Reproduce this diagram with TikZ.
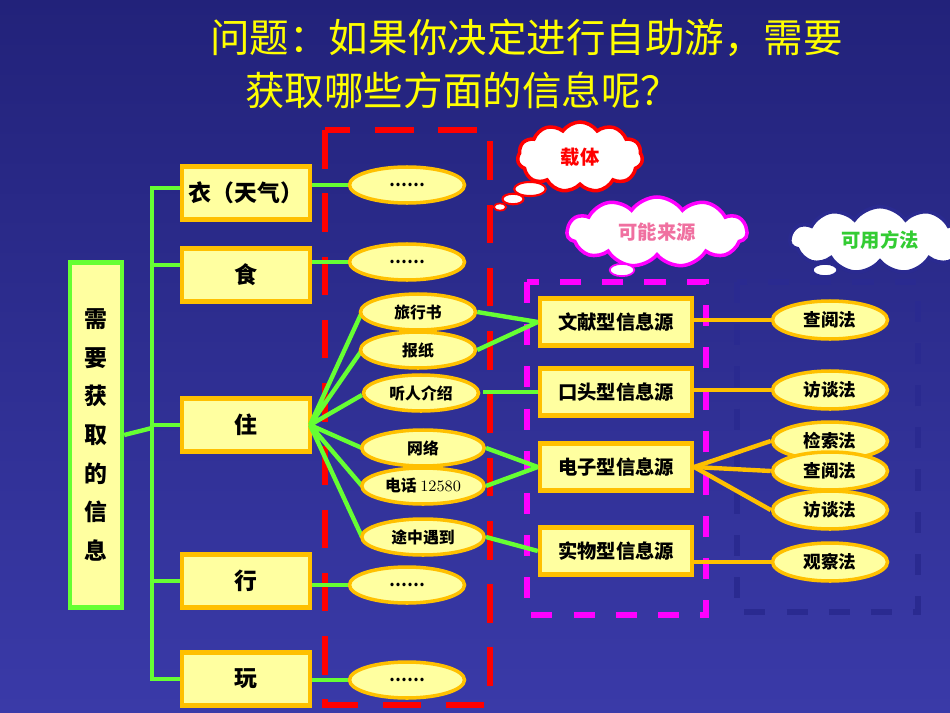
\documentclass[tikz,border=0pt]{standalone}
\usepackage{fontspec}
\setmainfont{Noto Sans CJK SC}
\usetikzlibrary{shapes.symbols,shapes.geometric}
\definecolor{bgtop}{HTML}{22227A}
\definecolor{bgbot}{HTML}{3A3AA8}
\definecolor{byel}{HTML}{FFFFA0}
\definecolor{bor}{HTML}{FFC000}
\definecolor{gl}{HTML}{66FF33}
\definecolor{ttl}{HTML}{FFFF00}
\definecolor{mag}{HTML}{FF00FF}
\definecolor{nv}{HTML}{2A2A90}
\definecolor{pinkt}{HTML}{F070A0}
\definecolor{greent}{HTML}{33CC33}
\tikzset{
 bx/.style={draw=bor,line width=2.5pt,fill=byel,minimum width=2.56cm,minimum height=1.06cm,font=\bfseries\fontsize{13}{13}\selectfont},
 sb/.style={draw=bor,line width=2.5pt,fill=byel,minimum width=3.04cm,minimum height=0.94cm,font=\bfseries\fontsize{11}{11}\selectfont},
 el/.style={ellipse,draw=bor,line width=2pt,fill=byel,minimum width=2.3cm,minimum height=0.72cm,inner sep=0pt,font=\bfseries\fontsize{9}{9}\selectfont},
 me/.style={ellipse,draw=bor,line width=2pt,fill=byel,minimum width=2.3cm,minimum height=0.76cm,inner sep=0pt,font=\bfseries\fontsize{10}{10}\selectfont},
 gline/.style={gl,line width=2.5pt},
 oline/.style={bor,line width=2.5pt},
 cl/.style={cloud,cloud puffs=11,cloud puff arc=110,aspect=2.2,fill=white,line width=2pt,inner sep=1pt,font=\bfseries\fontsize{11}{11}\selectfont},
}
\begin{document}
\begin{tikzpicture}[x=0.02cm,y=-0.02cm]
\shade[top color=bgtop,bottom color=bgbot] (0,0) rectangle (950,713);
\useasboundingbox (0,0) rectangle (950,713);
\node[ttl,font=\fontsize{22.5}{22.5}\selectfont,anchor=west,inner sep=0pt] (t1) at (210,38) {问题：如果你决定进行自助游，需要};
\node[ttl,font=\fontsize{22.5}{22.5}\selectfont,anchor=west,inner sep=0pt] (t2) at (245,90) {获取哪些方面的信息呢？};
% dashed boxes
\draw[red,line width=3.5pt,dash pattern=on 22pt off 14pt] (325,130) rectangle (490,705);
\draw[mag,line width=3.5pt,dash pattern=on 12pt off 12pt] (527,282) rectangle (706,615);
\draw[nv,line width=3.5pt,dash pattern=on 12pt off 12pt] (737,282) rectangle (918,612);
% left
\node[draw=gl,line width=2.5pt,fill=byel,minimum width=1.04cm,minimum height=6.9cm,align=center,font=\bfseries\fontsize{13}{22}\selectfont] (need) at (96,435) {需\\要\\获\\取\\的\\信\\息};
\node[bx] (yi) at (246,193) {衣（天气）};
\node[bx] (shi) at (246,275) {食};
\node[bx] (zhu) at (246,425) {住};
\node[bx] (xing) at (246,581) {行};
\node[bx] (wan) at (246,679) {玩};
\coordinate (bt) at (152,188);
\coordinate (bb) at (152,679);
\coordinate (bm) at (152,428);
\draw[gline] (yi.west |- bt) -- (bt) -- (bb) -- (wan.west);
\draw[gline] (need.east) -- (bm);
\draw[gline] (shi.west) ++(0,-10) -- (152,265);
\draw[gline] (zhu.west) -- (152,425);
\draw[gline] (xing.west) -- (152,581);
% dots ellipses
\node[el] (d1) at (407,185) {……};
\node[el] (d2) at (407,262) {……};
\node[el] (d3) at (407,585) {……};
\node[el] (d4) at (407,680) {……};
\draw[gline] (yi.east |- d1) -- (d1.west);
\draw[gline] (shi.east |- d2) -- (d2.west);
\draw[gline] (xing.east |- d3) -- (d3.west);
\draw[gline] (wan.east |- d4) -- (d4.west);
% sources
\node[sb] (s1) at (616,322) {文献型信息源};
\node[sb] (s2) at (616,392) {口头型信息源};
\node[sb] (s3) at (616,467) {电子型信息源};
\node[sb] (s4) at (616,551) {实物型信息源};
\coordinate (zr) at (310,425);
\draw[gline] (zr) -- (362,312) (zr) -- (362,350) (zr) -- (362,395) (zr) -- (362,448) (zr) -- (362,486) (zr) -- (362,537);
\node[el,minimum width=2.3cm] (a1) at (418,312) {旅行书};
\node[el] (a2) at (418,350) {报纸};
\node[el] (a3) at (421,393) {听人介绍};
\node[el,minimum width=2.45cm] (a4) at (423,448) {网络};
\node[el,minimum width=2.45cm] (a5) at (423,486) {电话 {\fontspec{Latin Modern Roman}\mdseries 12580}};
\node[el,minimum width=2.45cm] (a6) at (423,537) {途中遇到};
\draw[gline] (a1.east) -- (s1.west);
\draw[gline] (a2.east) -- (s1.west);
\draw[gline] (483,392) -- (s2.west);
\draw[gline] (a4.east) -- (s3.west);
\draw[gline] (a5.east) -- (s3.west);
\draw[gline] (a6.east) -- (s4.west);
% methods
\node[me] (m1) at (830,320) {查阅法};
\node[me] (m2) at (830,390) {访谈法};
\node[me] (m3) at (830,441) {检索法};
\node[me] (m4) at (830,471) {查阅法};
\node[me] (m5) at (830,510) {访谈法};
\node[me] (m6) at (830,562) {观察法};
\draw[oline] (s1.east |- m1) -- (m1.west);
\draw[oline] (s2.east |- m2) -- (m2.west);
\draw[oline] (s3.east) -- (m3.west);
\draw[oline] (s3.east) -- (m4.west);
\draw[oline] (s3.east) -- (m5.west);
\draw[oline] (s4.east |- m6) -- (m6.west);
% clouds
\node[cl,draw=red,text=red,minimum width=2.5cm,minimum height=1.4cm] (c1) at (580,157) {载体};
\node[ellipse,draw=red,fill=white,line width=1.2pt,minimum width=18pt,minimum height=8pt,inner sep=0pt] (b1) at (530,189) {};
\node[ellipse,draw=red,fill=white,line width=1.2pt,minimum width=12pt,minimum height=6pt,inner sep=0pt] (b2) at (513,199) {};
\node[ellipse,draw=red,fill=white,line width=1pt,minimum width=7pt,minimum height=4pt,inner sep=0pt] (b3) at (500,207) {};
\node[cl,draw=mag,text=pinkt,minimum width=3.6cm,minimum height=1.4cm] (c2) at (657,232) {可能来源};
\node[ellipse,draw=mag,fill=white,line width=1pt,minimum width=14pt,minimum height=7pt,inner sep=0pt] (b4) at (622,270) {};
\node[cl,draw=nv,text=greent,minimum width=3.6cm,minimum height=1.3cm] (c3) at (880,240) {可用方法};
\node[ellipse,draw=nv,fill=white,line width=1pt,minimum width=14pt,minimum height=7pt,inner sep=0pt] (b5) at (825,270) {};
\end{tikzpicture}
\end{document}
